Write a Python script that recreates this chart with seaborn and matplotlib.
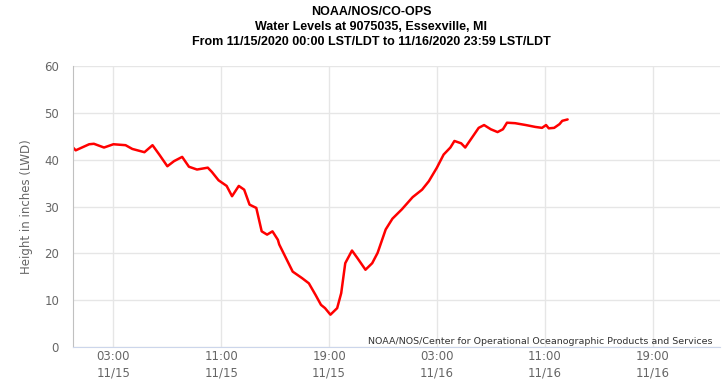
import pandas as pd
import matplotlib
matplotlib.use('Agg')
import matplotlib.pyplot as plt
import matplotlib.dates as mdates
import seaborn as sns

# hours since 11/15/2020 00:00 and water level (inches, LWD)
hours = [0.0, 0.2, 1.2, 1.55, 2.3, 3.0, 3.9, 4.4, 5.3, 5.9, 6.4, 7.0, 7.5, 8.1,
         8.6, 9.2, 10.0, 10.3, 10.8, 11.4, 11.8, 12.3, 12.7, 13.1, 13.6, 14.0,
         14.4, 14.8, 15.2, 15.3, 15.8, 16.3, 17.0, 17.5, 18.0, 18.4, 18.7, 19.1,
         19.6, 19.9, 20.2, 20.7, 21.1, 21.7, 22.2, 22.6, 23.2, 23.7, 24.4, 25.2,
         25.9, 26.4, 27.0, 27.5, 28.0, 28.3, 28.8, 29.1, 29.6, 30.1, 30.5, 31.0,
         31.5, 31.9, 32.2, 32.8, 33.6, 34.3, 34.8, 35.1, 35.3, 35.7, 36.1, 36.3,
         36.7]
levels = [42.6, 42.0, 43.3, 43.4, 42.6, 43.3, 43.1, 42.3, 41.6, 43.1, 41.1, 38.6,
          39.7, 40.6, 38.5, 37.9, 38.3, 37.4, 35.6, 34.4, 32.2, 34.4, 33.6, 30.4,
          29.7, 24.7, 24.0, 24.7, 22.9, 21.9, 19.0, 16.1, 14.7, 13.6, 11.1, 9.0,
          8.3, 6.9, 8.3, 11.5, 17.9, 20.6, 19.0, 16.5, 17.9, 20.1, 25.1, 27.4,
          29.4, 32.0, 33.6, 35.4, 38.3, 41.1, 42.6, 44.0, 43.5, 42.6, 44.7, 46.8,
          47.4, 46.5, 45.9, 46.5, 47.9, 47.8, 47.4, 47.0, 46.8, 47.4, 46.7, 46.8,
          47.6, 48.3, 48.6]

start = pd.Timestamp('2020-11-15 00:00')
df = pd.DataFrame({
    'time': start + pd.to_timedelta(hours, unit='h'),
    'level': levels,
})

sns.set_style("white")
fig = plt.figure(figsize=(7.25, 3.92), dpi=100)
ax = fig.add_axes([0.1007, 0.1148, 0.8923, 0.7167])

sns.lineplot(data=df, x='time', y='level', color='#ff0000', linewidth=1.8, ax=ax)
ax.lines[0].set_solid_joinstyle('round')

ax.set_xlim(start, start + pd.Timedelta(hours=48))
ax.set_ylim(0, 60)
ax.set_yticks(range(0, 61, 10))
ax.xaxis.set_major_locator(mdates.HourLocator(byhour=[3, 11, 19]))
ax.xaxis.set_major_formatter(mdates.DateFormatter('%H:%M\n%m/%d'))

ax.grid(True, color='#e6e6e6', linewidth=1)
for s in ['top', 'right']:
    ax.spines[s].set_visible(False)
ax.spines['left'].set_color('#c0c0c0')
ax.spines['bottom'].set_color('#ccd6eb')

ax.tick_params(axis='x', colors='#ccd6eb', length=4, width=1, labelcolor='#666666',
               labelsize=8.5, pad=-2)
ax.tick_params(axis='y', length=0, labelcolor='#666666', labelsize=8.5, pad=10)
for lab in ax.get_xticklabels():
    lab.set_linespacing(1.35)

ax.set_xlabel('')
ax.set_ylabel('Height in inches (LWD)', color='#666666', fontsize=8.5, labelpad=8)

tfont = dict(family='Liberation Sans', weight='bold', fontsize=9.0, color='#000000',
             ha='center', va='center')
fig.text(0.512, 1 - 12 / 392, 'NOAA/NOS/CO-OPS', **tfont)
fig.text(0.512, 1 - 27 / 392, 'Water Levels at 9075035, Essexville, MI', **tfont)
fig.text(0.512, 1 - 42 / 392,
         'From 11/15/2020 00:00 LST/LDT to 11/16/2020 23:59 LST/LDT', **tfont)

fig.text(712 / 725, 1 - 341 / 392,
         'NOAA/NOS/Center for Operational Oceanographic Products and Services',
         ha='right', va='center', fontsize=6.8, color='#333333')

fig.savefig('out.png', dpi=100)
